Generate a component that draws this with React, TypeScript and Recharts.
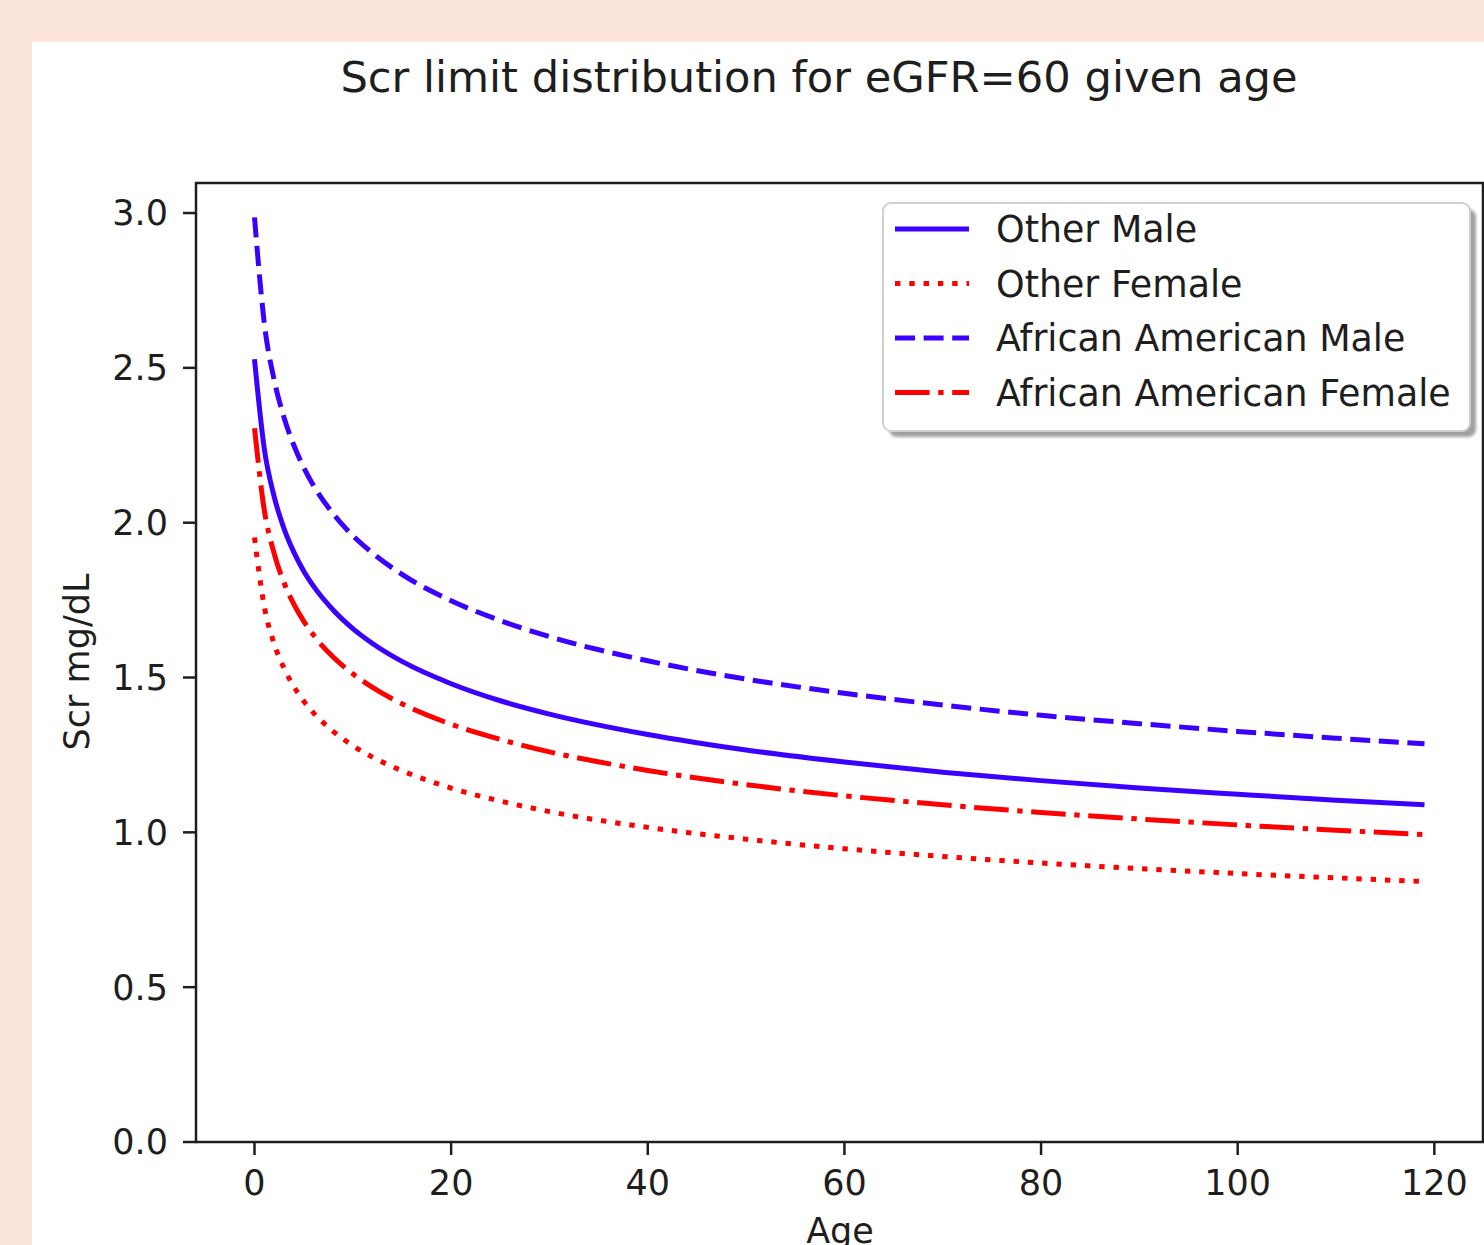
import React from 'react';
import { LineChart, Line, XAxis, YAxis, ReferenceArea } from 'recharts';

// x = age index (Scr mg/dL)
const ages = [0, 1, 2, 3, 4, 5, 6, 8, 10, 12, 15, 20, 25, 30, 40, 50, 60, 70, 80, 90, 100, 110, 119];
const otherMale = [2.528, 2.238, 2.084, 1.981, 1.905, 1.844, 1.795, 1.718, 1.658, 1.61, 1.552, 1.48, 1.425, 1.382, 1.316, 1.266, 1.227, 1.194, 1.167, 1.143, 1.123, 1.104, 1.089];
const otherFemale = [1.952, 1.728, 1.609, 1.53, 1.471, 1.424, 1.386, 1.326, 1.28, 1.243, 1.199, 1.143, 1.101, 1.067, 1.016, 0.978, 0.947, 0.922, 0.901, 0.883, 0.867, 0.853, 0.841];
const aaMale = [2.986, 2.643, 2.461, 2.34, 2.25, 2.179, 2.12, 2.029, 1.958, 1.902, 1.833, 1.748, 1.684, 1.632, 1.554, 1.495, 1.449, 1.411, 1.378, 1.351, 1.326, 1.304, 1.286];
const aaFemale = [2.305, 2.04, 1.9, 1.806, 1.737, 1.682, 1.637, 1.566, 1.512, 1.468, 1.415, 1.349, 1.3, 1.26, 1.2, 1.154, 1.118, 1.089, 1.064, 1.043, 1.024, 1.007, 0.993];

const xTicks = [0, 20, 40, 60, 80, 100, 120];
const yTicks = [0, 0.5, 1.0, 1.5, 2.0, 2.5, 3.0];

const BLUE = '#3c00ff';
const RED = '#ff0000';
const FONT = '"DejaVu Sans", sans-serif';
const INK = '#1e1e1e';

const series = [
  { key: 'otherMale', name: 'Other Male', color: BLUE, dash: undefined },
  { key: 'otherFemale', name: 'Other Female', color: RED, dash: '5.4 8.9' },
  { key: 'aaMale', name: 'African American Male', color: BLUE, dash: '20 8.6' },
  { key: 'aaFemale', name: 'African American Female', color: RED, dash: '34.6 8.6 5.4 8.6' },
];

const data = ages.map((age, i) => ({
  age,
  otherMale: otherMale[i],
  otherFemale: otherFemale[i],
  aaMale: aaMale[i],
  aaFemale: aaFemale[i],
}));

const tickStyle = { fontSize: 35, fill: INK, fontFamily: FONT };

const App: React.FC = () => {
  return (
    <div style={{ position: 'absolute', left: 0, top: 0, width: 1484, height: 1245, overflow: 'hidden', background: '#fae5d8' }}>
      <div style={{ position: 'absolute', left: 32, top: 42, right: 0, bottom: 0, background: '#fff' }} />

      <div style={{ position: 'absolute', left: 0, top: 0 }}>
        <LineChart width={1484} height={1245} data={data} margin={{ top: 183, right: 1, bottom: 43, left: 96 }}>
          <XAxis
            dataKey="age"
            type="number"
            domain={[-5.95, 124.95]}
            ticks={xTicks}
            allowDataOverflow
            height={60}
            axisLine={false}
            tickLine={{ stroke: INK, strokeWidth: 2.5 }}
            tickSize={13}
            tickMargin={15}
            tick={tickStyle}
            interval={0}
          />
          <YAxis
            type="number"
            domain={[0, 3.097]}
            ticks={yTicks}
            allowDataOverflow
            width={100}
            axisLine={false}
            tickLine={{ stroke: INK, strokeWidth: 2.5 }}
            tickSize={13}
            tickMargin={15}
            tick={tickStyle}
            interval={0}
            tickFormatter={(v: number) => v.toFixed(1)}
          />
          {series.map((s) => (
            <Line
              key={s.key}
              type="monotone"
              dataKey={s.key}
              name={s.name}
              stroke={s.color}
              strokeWidth={5}
              strokeDasharray={s.dash}
              dot={false}
              activeDot={false}
              isAnimationActive={false}
            />
          ))}
          {/* axes frame */}
          <ReferenceArea
            x1={-5.95}
            x2={124.95}
            y1={0}
            y2={3.097}
            fill="none"
            fillOpacity={0}
            stroke={INK}
            strokeWidth={2.5}
            ifOverflow="visible"
          />
        </LineChart>
      </div>

      <svg width={1484} height={1245} style={{ position: 'absolute', left: 0, top: 0, pointerEvents: 'none' }}>
        <defs>
          <filter id="legendShadow" x="-10%" y="-10%" width="120%" height="120%">
            <feGaussianBlur stdDeviation="1.8" />
          </filter>
        </defs>
        <text x={819} y={92} textAnchor="middle" fontSize={43.2} fontFamily={FONT} fill={INK}>
          Scr limit distribution for eGFR=60 given age
        </text>
        <text transform="translate(89,662) rotate(-90)" textAnchor="middle" fontSize={35} fontFamily={FONT} fill={INK}>
          Scr mg/dL
        </text>
        <text x={840} y={1243} textAnchor="middle" fontSize={35} fontFamily={FONT} fill={INK}>
          Age
        </text>

        {/* legend */}
        <rect x={889} y={209} width={587} height={228} rx={8} fill="#6e6e6e" opacity={0.65} filter="url(#legendShadow)" />
        <rect x={883} y={203} width={587} height={228} rx={8} fill="#fff" stroke="#d0d0d0" strokeWidth={2} />
        {series.map((s, i) => {
          const cy = 229 + i * 54.5;
          return (
            <g key={s.key}>
              <line x1={895} x2={969} y1={cy} y2={cy} stroke={s.color} strokeWidth={5} strokeDasharray={s.dash} />
              <text x={996} y={cy} dy="0.36em" fontSize={36.4} fontFamily={FONT} fill={INK}>
                {s.name}
              </text>
            </g>
          );
        })}
      </svg>
    </div>
  );
};

export default App;
